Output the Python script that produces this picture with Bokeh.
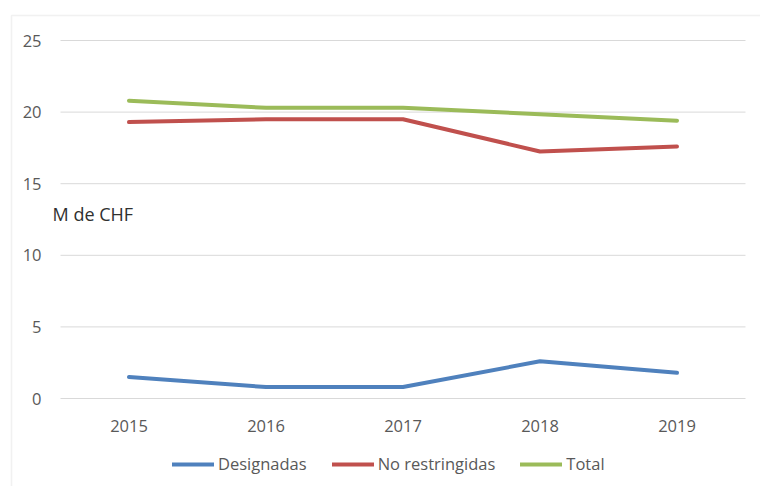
from bokeh.plotting import figure
from bokeh.models import Range1d, FixedTicker, Legend, LegendItem, Label, BoxAnnotation
from bokeh.embed import file_html
from bokeh.resources import INLINE

years = ["2015", "2016", "2017", "2018", "2019"]
designadas = [1.5, 0.8, 0.8, 2.6, 1.8]
no_restringidas = [19.3, 19.5, 19.5, 17.25, 17.6]
total = [20.8, 20.3, 20.3, 19.85, 19.4]
y_ticks = [0, 5, 10, 15, 20, 25]
unit_label = "M de CHF"

FONT = "Open Sans"
GREY_TXT = "#595959"
GRID = "#d9d9d9"

W, H = 760, 486
PX_X = 137.0       # pixels per category
PX_Y = 14.32       # pixels per unit
X0_PX = 128.5      # pixel of first category centre
Y0_PX = 398.0      # pixel of value 0

xs = list(range(len(years)))
x_start = -X0_PX / PX_X
x_end = (W - X0_PX) / PX_X
y_end = Y0_PX / PX_Y
y_start = -(H - Y0_PX) / PX_Y

p = figure(width=W, height=H, x_range=Range1d(x_start, x_end), y_range=Range1d(y_start, y_end),
           output_backend="svg", toolbar_location=None, min_border=0)
p.outline_line_color = None
p.background_fill_color = "white"
p.border_fill_color = "white"
p.xgrid.grid_line_color = None
p.ygrid.grid_line_color = None

# horizontal gridlines across the category span
p.segment(x0=[-0.5] * len(y_ticks), x1=[len(years) - 0.5] * len(y_ticks), y0=y_ticks, y1=y_ticks,
          line_color=GRID, line_width=1)

p.yaxis.fixed_location = -0.5
p.yaxis.ticker = FixedTicker(ticks=y_ticks)
p.yaxis.axis_line_color = None
p.yaxis.major_tick_line_color = None
p.yaxis.minor_tick_line_color = None
p.yaxis.major_label_standoff = 13

p.xaxis.fixed_location = 0
p.xaxis.ticker = FixedTicker(ticks=xs)
p.xaxis.major_label_overrides = {i: y for i, y in zip(xs, years)}
p.xaxis.axis_line_color = None
p.xaxis.major_tick_line_color = None
p.xaxis.minor_tick_line_color = None
p.xaxis.major_label_standoff = 15
for ax in (p.xaxis, p.yaxis):
    ax.major_label_text_font = FONT
    ax.major_label_text_font_size = "16.5px"
    ax.major_label_text_color = GREY_TXT

style = dict(line_width=4, line_cap="round", line_join="round")
r1 = p.line(xs, designadas, line_color="#4F81BD", **style)
r2 = p.line(xs, no_restringidas, line_color="#C0504D", **style)
r3 = p.line(xs, total, line_color="#9BBB59", **style)

legend = Legend(items=[LegendItem(label="Designadas", renderers=[r1]),
                       LegendItem(label="No restringidas", renderers=[r2]),
                       LegendItem(label="Total", renderers=[r3])],
                orientation="horizontal", location=(172, 11),
                glyph_width=42, glyph_height=20, label_standoff=4, spacing=25,
                padding=0, margin=0, border_line_color=None, background_fill_alpha=0,
                label_text_font=FONT, label_text_font_size="16.5px", label_text_color=GREY_TXT,
                label_height=20)
p.add_layout(legend, "center")

p.add_layout(Label(x=-0.558, y=12.85, text=unit_label,
                   text_font=FONT, text_font_size="18px", text_color="#303030",
                   text_baseline="middle", text_align="left"))

p.add_layout(BoxAnnotation(left=11, right=3000, top=H - 15, bottom=-3000,
                           left_units="screen", right_units="screen",
                           top_units="screen", bottom_units="screen",
                           fill_alpha=0, line_color="#d0d0d0", line_width=1.5))

open("out.html", "w").write(file_html(p, INLINE))
